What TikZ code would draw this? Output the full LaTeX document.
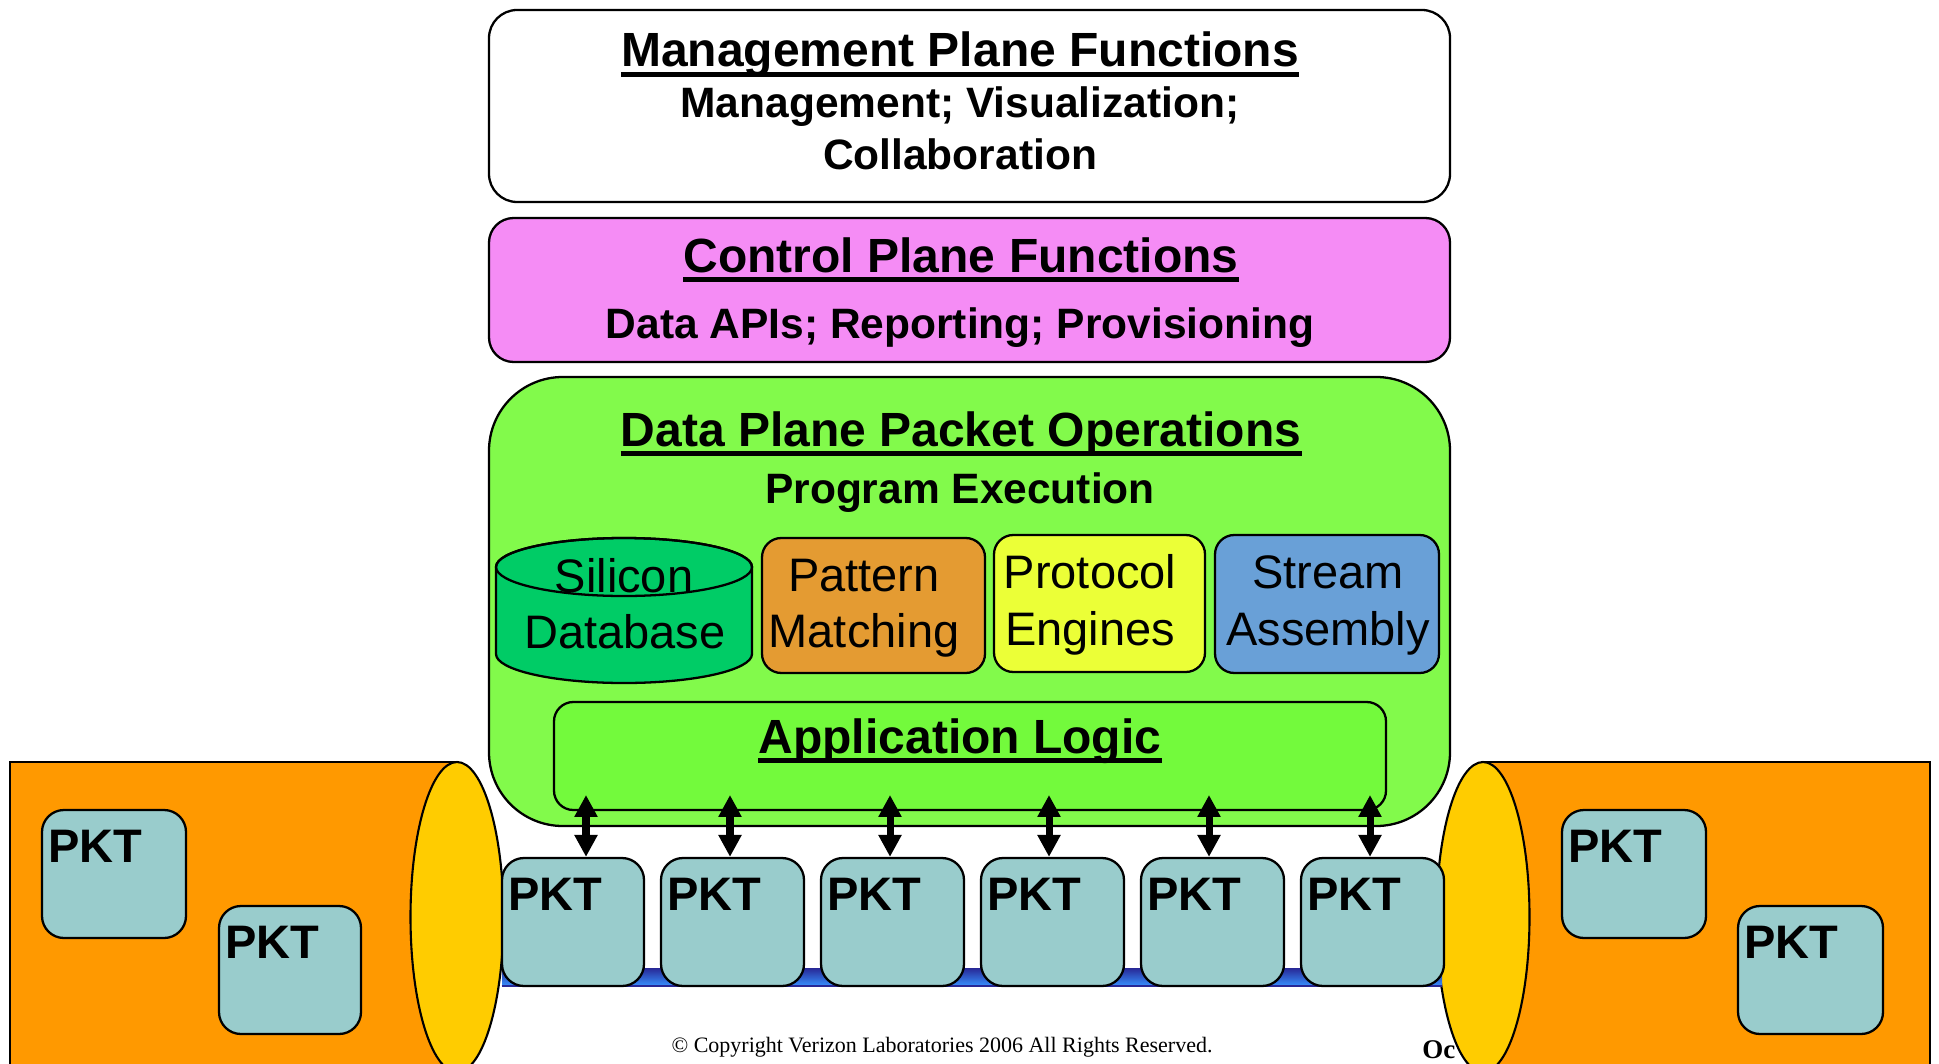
\documentclass[tikz,border=0pt]{standalone}
\usepackage{fontspec}
\setmainfont{Liberation Sans}
\newfontfamily\serifff{Liberation Serif}
\usetikzlibrary{arrows.meta,fit}
\newdimen\pxu \pxu=0.02cm
\newcommand\fpx[1]{\fontsize{\dimexpr#1\pxu\relax}{\dimexpr#1\pxu\relax}\selectfont}
\definecolor{pinkc}{RGB}{245,140,245}
\definecolor{greenc}{RGB}{130,250,75}
\definecolor{appg}{RGB}{115,250,60}
\definecolor{dbg}{RGB}{0,204,102}
\definecolor{patc}{RGB}{228,155,50}
\definecolor{proc}{RGB}{235,255,55}
\definecolor{strc}{RGB}{105,160,215}
\definecolor{pipec}{RGB}{255,153,0}
\definecolor{ellc}{RGB}{255,204,0}
\definecolor{pktc}{RGB}{153,204,204}
\definecolor{bart}{RGB}{40,40,150}
\definecolor{barb}{RGB}{55,145,255}
\tikzset{
  box/.style={draw=black, line width=1.3pt, inner sep=0pt},
  txt/.style={inner sep=0pt, anchor=base},
  ttl/.style={txt, font=\bfseries\fpx{48}},
  sub/.style={txt, font=\bfseries\fpx{42.5}},
  inn/.style={txt, font=\fpx{47}},
  uline/.style={line width=2.8pt},
  pktbox/.style={box, fill=pktc, rounded corners=12.5pt},
  pkttxt/.style={inner sep=0pt, anchor=base west, font=\bfseries\fpx{47}},
  biarrow/.style={line width=4pt, {Triangle[length=12.5pt,width=12.5pt]}-{Triangle[length=12.5pt,width=12.5pt]}},
}
\newcommand\pkt[5]{%
  \node[pktbox, fit={(#2,#3) (#4,#5)}] (#1) {};
  \node[pkttxt] (#1t) at ([shift={(7,54)}]#1.north west) {PKT};}
\begin{document}
\begin{tikzpicture}[x=0.02cm, y=-0.02cm]
\useasboundingbox (0,0) rectangle (1939,1064);
\clip (0,0) rectangle (1939,1064);
\fill[white] (0,0) rectangle (1939,1064);

% copyright footer
\node[txt, font=\serifff\fpx{22}] (copy) at (942,1052) {\textcopyright\ Copyright Verizon Laboratories 2006 All Rights Reserved.};
\node[inner sep=0pt, anchor=base west, font=\serifff\bfseries\fpx{27}] (oc) at (1422,1058) {Oc};

% left pipe
\node[box, fill=pipec, fit={(10,762) (457,1090)}] (lpipe) {};
\filldraw[fill=ellc, line width=1.2pt] (457,917) ellipse [x radius=46.5, y radius=155];
% right pipe
\node[box, fill=pipec, fit={(1483,762) (1930,1090)}] (rpipe) {};
\filldraw[fill=ellc, line width=1.2pt] (1483,917) ellipse [x radius=46.5, y radius=155];

% pipe packets
\pkt{pl1}{42}{810}{186}{938}
\pkt{pl2}{219}{906}{361}{1034}
\pkt{pr1}{1562}{810}{1706}{938}
\pkt{pr2}{1738}{906}{1883}{1034}

% blue bus
\node[inner sep=0pt, top color=bart, bottom color=barb, fit={(502,968) (1442,986)}] (bus) {};
\draw[line width=1.2pt, color=bart] (bus.south west) -- (bus.south east);

% bus packets
\pkt{p1}{502}{858}{644}{986}
\pkt{p2}{661}{858}{804}{986}
\pkt{p3}{821}{858}{964}{986}
\pkt{p4}{981}{858}{1124}{986}
\pkt{p5}{1141}{858}{1284}{986}
\pkt{p6}{1301}{858}{1444}{986}

% management plane
\node[box, fill=white, rounded corners=16pt, fit={(489,10) (1450,202)}] (mgmt) {};
\node[ttl] (mt) at (960,67) {Management Plane Functions};
\draw[uline] ([yshift=-4.5pt]mt.base west) -- ([yshift=-4.5pt]mt.base east);
\node[sub] (ml2) at (960,118) {Management; Visualization;};
\node[sub] (ml3) at (960,170) {Collaboration};

% control plane
\node[box, fill=pinkc, rounded corners=14pt, fit={(489,218) (1450,362)}] (ctrl) {};
\node[ttl] (ct) at (961,272) {Control Plane Functions};
\draw[uline] ([yshift=-4.5pt]ct.base west) -- ([yshift=-4.5pt]ct.base east);
\node[sub] (cl2) at (960,338) {Data APIs; Reporting; Provisioning};

% data plane
\node[box, fill=greenc, rounded corners=42pt, fit={(489,377) (1450,826)}] (data) {};
\node[ttl] (dt) at (961,446) {Data Plane Packet Operations};
\draw[uline] ([yshift=-4.5pt]dt.base west) -- ([yshift=-4.5pt]dt.base east);
\node[sub] (dl2) at (960,503) {Program Execution};

% silicon database cylinder
\filldraw[fill=dbg, line width=1.3pt] (496,567) -- (496,654)
  arc[start angle=180, end angle=0, x radius=128, y radius=29] -- (752,567)
  arc[start angle=0, end angle=-180, x radius=128, y radius=29] -- cycle;
\draw[line width=1.3pt] (624,567) ellipse [x radius=128, y radius=29];
\node[inn] (db1) at (624,592) {Silicon};
\node[inn] (db2) at (625,648) {Database};

% pattern matching
\node[box, fill=patc, rounded corners=11pt, fit={(762,538) (985,673)}] (pat) {};
\node[inn] (pat1) at (864,591) {Pattern};
\node[inn] (pat2) at (864,647) {Matching};

% protocol engines
\node[box, fill=proc, rounded corners=11pt, fit={(994,535) (1205,672)}] (pro) {};
\node[inn] (pro1) at (1090,588) {Protocol};
\node[inn] (pro2) at (1090,645) {Engines};

% stream assembly
\node[box, fill=strc, rounded corners=11pt, fit={(1215,535) (1439,673)}] (str) {};
\node[inn] (str1) at (1328,588) {Stream};
\node[inn] (str2) at (1328,645) {Assembly};

% application logic
\node[box, fill=appg, rounded corners=11pt, fit={(554,702) (1386,810)}] (app) {};
\node[ttl] (at) at (960,753) {Application Logic};
\draw[uline] ([yshift=-4.5pt]at.base west) -- ([yshift=-4.5pt]at.base east);

% arrows
\coordinate (t1) at (586,795);
\coordinate (t2) at (730,795);
\coordinate (t3) at (890,795);
\coordinate (t4) at (1049,795);
\coordinate (t5) at (1209,795);
\coordinate (t6) at (1370,795);
\draw[biarrow] (t1) -- (t1 |- p1.north);
\draw[biarrow] (t2) -- (t2 |- p2.north);
\draw[biarrow] (t3) -- (t3 |- p3.north);
\draw[biarrow] (t4) -- (t4 |- p4.north);
\draw[biarrow] (t5) -- (t5 |- p5.north);
\draw[biarrow] (t6) -- (t6 |- p6.north);
\end{tikzpicture}
\end{document}
